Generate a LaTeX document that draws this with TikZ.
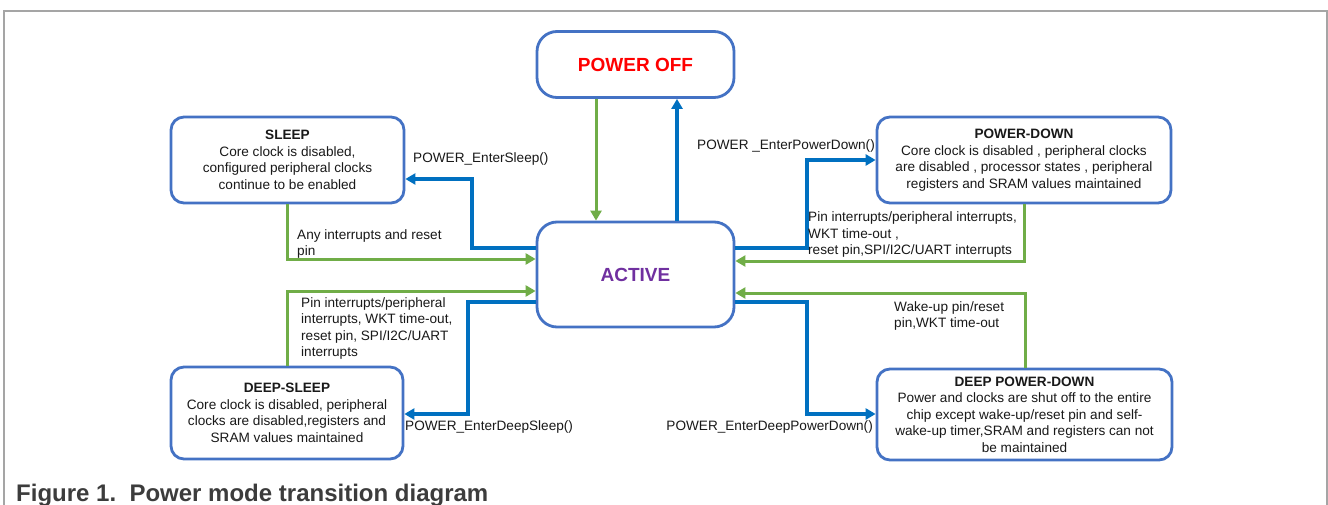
\documentclass[tikz,border=0pt]{standalone}
\usepackage{fontspec}
\setmainfont{Liberation Sans}
\usetikzlibrary{arrows.meta}
\definecolor{boxblue}{RGB}{68,114,196}
\definecolor{arrblue}{RGB}{0,112,192}
\definecolor{arrgreen}{RGB}{112,173,71}
\definecolor{offred}{RGB}{255,0,0}
\definecolor{actpurple}{RGB}{112,48,160}
\definecolor{framegray}{RGB}{165,165,165}
\definecolor{capgray}{RGB}{60,60,60}
\definecolor{txt}{RGB}{25,25,25}
\begin{document}
\begin{tikzpicture}[x=1pt,y=-1pt,
  state/.style={draw=boxblue, line width=2.8pt, rounded corners=13pt, fill=white,
    align=center, inner sep=0pt, text=txt, font=\fontsize{13.6}{16.5}\selectfont},
  bigstate/.style={state, rounded corners=20pt, font=\fontsize{19}{22}\selectfont\bfseries},
  barr/.style={draw=arrblue, line width=3.6pt, -{Triangle[length=10pt,width=11pt]}},
  garr/.style={draw=arrgreen, line width=3pt, -{Triangle[length=10pt,width=11pt]}},
  lbl/.style={anchor=west, align=left, inner sep=0pt, text=txt, font=\fontsize{13.6}{16.5}\selectfont}
]
\useasboundingbox (0,0) rectangle (1328,505);
\fill[white] (0,0) rectangle (1328,505);
\draw[framegray, line width=1.5pt] (4,505) -- (4,11) -- (1327,11) -- (1327,505);

% states
\node[bigstate, minimum width=197pt, minimum height=66pt, text=offred] (off) at (635.5,64.5) {POWER OFF};
\node[bigstate, minimum width=197pt, minimum height=105pt, text=actpurple] (active) at (635.5,274.5) {ACTIVE};
\node[state, minimum width=233pt, minimum height=86pt] (sleep) at (287.5,160)
  {\textbf{SLEEP}\\Core clock is disabled,\\configured peripheral clocks\\continue to be enabled};
\node[state, minimum width=294pt, minimum height=86pt] (pd) at (1024,160)
  {\textbf{POWER-DOWN}\\Core clock is disabled , peripheral clocks\\are disabled , processor states , peripheral\\registers and SRAM values maintained};
\node[state, minimum width=232pt, minimum height=92pt] (ds) at (287,413)
  {\textbf{DEEP-SLEEP}\\Core clock is disabled, peripheral\\clocks are disabled,registers and\\SRAM values maintained};
\node[state, minimum width=295pt, minimum height=91pt] (dpd) at (1024.5,414.5)
  {\textbf{DEEP POWER-DOWN}\\Power and clocks are shut off to the entire\\chip except wake-up/reset pin and self-\\wake-up timer,SRAM and registers can not\\be maintained};

% helper coordinates
\coordinate (pA) at (596,0);
\coordinate (pB) at (677,0);
\coordinate (y248) at (0,248);
\coordinate (y302) at (0,302);
\coordinate (b1) at (472,179);
\coordinate (b2) at (807,160);
\coordinate (b3) at (468,414);
\coordinate (b4) at (807,414);
\coordinate (g1) at (287,259);
\coordinate (g2) at (1024,261);
\coordinate (g3) at (287,291);
\coordinate (g4) at (1025,293);

% connectors
\draw[garr] (off.south -| pA) -- (active.north -| pA);
\draw[barr] (active.north -| pB) -- (off.south -| pB);
\draw[barr] (active.west |- y248) -| (b1) -- (sleep.east |- b1);
\draw[garr] (sleep.south -| g1) |- (active.west |- g1);
\draw[barr] (active.east |- y248) -| (b2) -- (pd.west |- b2);
\draw[garr] (pd.south -| g2) |- (active.east |- g2);
\draw[garr] (ds.north -| g3) |- (active.west |- g3);
\draw[barr] (active.west |- y302) -| (b3) -- (ds.east |- b3);
\draw[barr] (active.east |- y302) -| (b4) -- (dpd.west |- b4);
\draw[garr] (dpd.north -| g4) |- (active.east |- g4);

% labels
\node[lbl] (l1) at (413,159) {POWER\_EnterSleep()};
\node[lbl] (l2) at (697,146) {POWER \_EnterPowerDown()};
\node[lbl] (l3) at (297,244) {Any interrupts and reset\\pin};
\node[lbl] (l4) at (808,234.5) {Pin interrupts/peripheral interrupts,\\WKT time-out ,\\reset pin,SPI/I2C/UART interrupts};
\node[lbl] (l5) at (301,328.5) {Pin interrupts/peripheral\\interrupts, WKT time-out,\\reset pin, SPI/I2C/UART\\interrupts};
\node[lbl] (l6) at (405,426.5) {POWER\_EnterDeepSleep()};
\node[lbl, anchor=east] (l7) at (873,426.5) {POWER\_EnterDeepPowerDown()};
\node[lbl] (l8) at (894,316) {Wake-up pin/reset\\pin,WKT time-out};

% caption
\node[anchor=base west, inner sep=0pt, text=capgray, font=\fontsize{24}{28}\selectfont\bfseries] (cap) at (16,501) {Figure 1.\ \ Power mode transition diagram};
\end{tikzpicture}
\end{document}
